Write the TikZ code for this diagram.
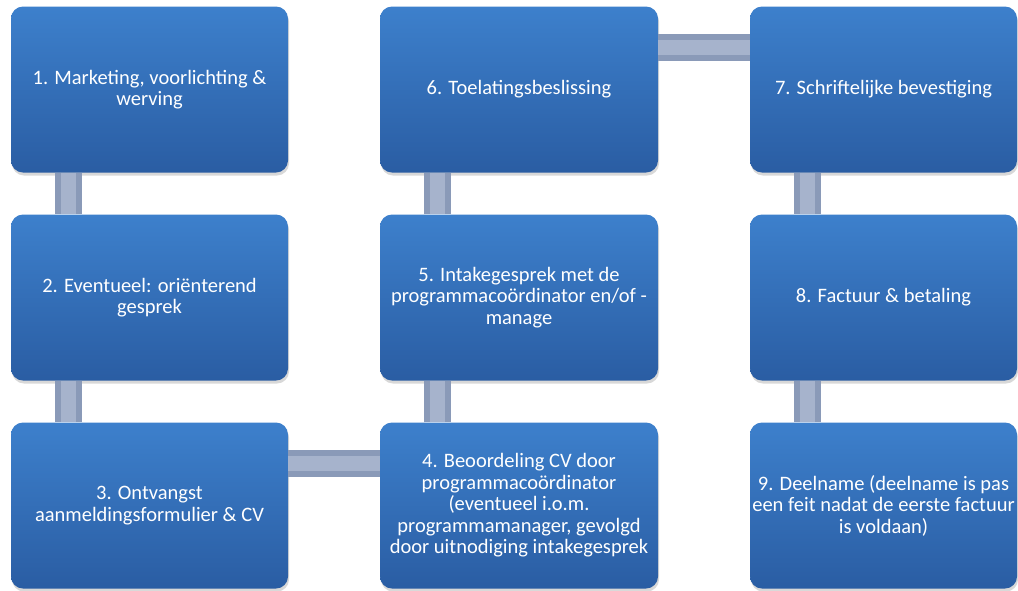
\documentclass[tikz,border=0pt]{standalone}
\usepackage{fontspec}
\setmainfont{Carlito}
\usetikzlibrary{shadows}
\definecolor{stepTop}{HTML}{3D80CC}
\definecolor{stepBottom}{HTML}{2A5DA3}
\definecolor{linkEdge}{HTML}{8A9AB8}
\definecolor{linkMid}{HTML}{A6B3CC}

\begin{document}
\begin{tikzpicture}[x=1pt,y=-1pt,line cap=butt]
\useasboundingbox[fill=white] (0,0) rectangle (1018,590);
\tikzset{stepbox/.style={rounded corners=12pt,top color=stepTop,bottom color=stepBottom,draw=none,text=white,align=center,font=\fontsize{20.5}{21.5}\selectfont,minimum height=166pt,inner sep=0pt,drop shadow={opacity=0.3,shadow xshift=1pt,shadow yshift=-3pt}},link/.style={draw=linkEdge,line width=6pt,double=linkMid,double distance=15pt}}
% column 1
\node[stepbox,minimum width=277pt] (s1) at (149.5,89.5) {1. Marketing, voorlichting \&\\werving};
\node[stepbox,minimum width=277pt] (s2) at (149.5,297.5) {2. Eventueel: oriënterend\\gesprek};
\node[stepbox,minimum width=277pt] (s3) at (149.5,505.5) {3. Ontvangst\\aanmeldingsformulier \& CV};
% column 2
\node[stepbox,minimum width=278pt] (s4) at (519,505.5) {4. Beoordeling CV door\\programmacoördinator\\(eventueel i.o.m.\\programmamanager, gevolgd\\door uitnodiging intakegesprek};
\node[stepbox,minimum width=278pt] (s5) at (519,297.5) {5. Intakegesprek met de\\programmacoördinator en/of -\\manage};
\node[stepbox,minimum width=278pt] (s6) at (519,89.5) {6. Toelatingsbeslissing};
% column 3
\node[stepbox,minimum width=267pt] (s7) at (883.5,89.5) {7. Schriftelijke bevestiging};
\node[stepbox,minimum width=267pt] (s8) at (883.5,297.5) {8. Factuur \& betaling};
\node[stepbox,minimum width=267pt] (s9) at (883.5,505.5) {9. Deelname (deelname is pas\\een feit nadat de eerste factuur\\is voldaan)};
% connectors
\draw[link] (s1.south -| 68,0) -- (s2.north -| 68,0);
\draw[link] (s2.south -| 68,0) -- (s3.north -| 68,0);
\draw[link] (s3.east |- 0,463) -- (s4.west |- 0,463);
\draw[link] (s4.north -| 437,0) -- (s5.south -| 437,0);
\draw[link] (s5.north -| 437,0) -- (s6.south -| 437,0);
\draw[link] (s6.east |- 0,47) -- (s7.west |- 0,47);
\draw[link] (s7.south -| 807,0) -- (s8.north -| 807,0);
\draw[link] (s8.south -| 807,0) -- (s9.north -| 807,0);
\end{tikzpicture}
\end{document}
